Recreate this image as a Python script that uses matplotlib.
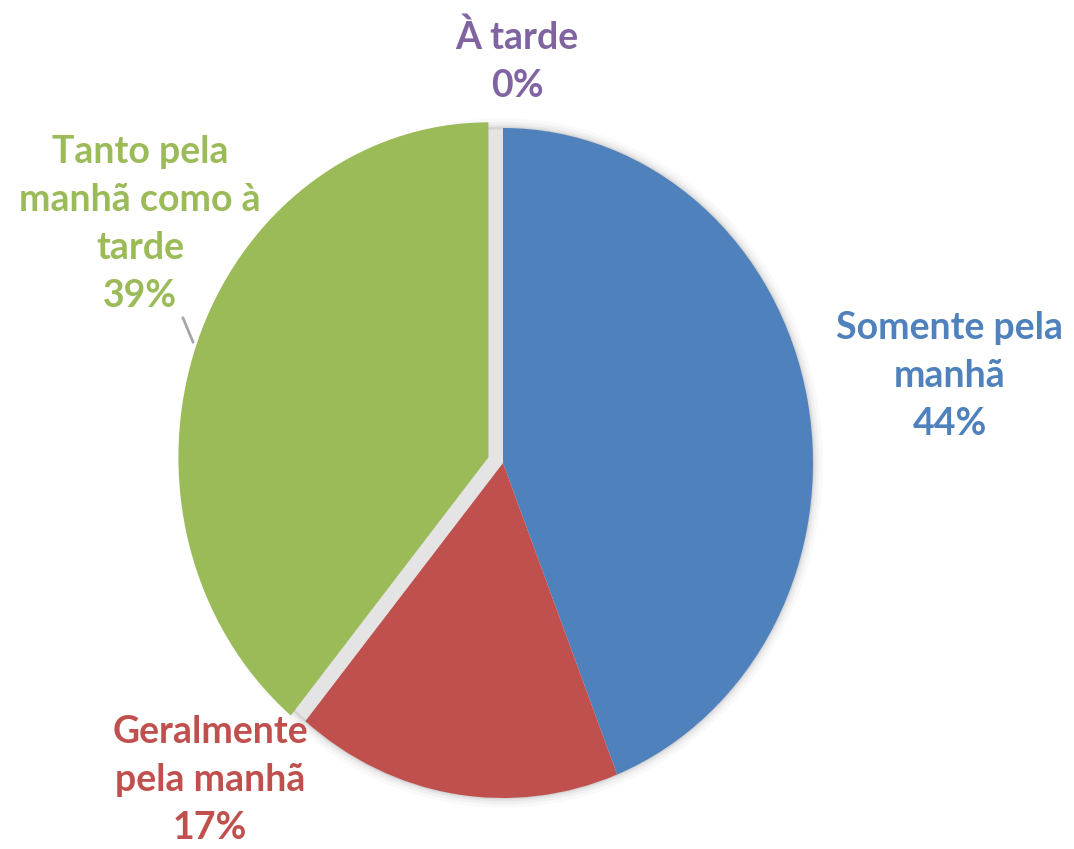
import numpy as np
import matplotlib
matplotlib.use('Agg')
import matplotlib.pyplot as plt

# ────────────────────────────────
# Данные

categories = ['Somente pela\nmanhã', 'Geralmente\npela manhã',
              'Tanto pela\nmanhã como à\ntarde', 'À tarde']
values = [44, 17, 39, 0]
colors = ['#4F81BD', '#C0504D', '#9BBB59', '#8064A2']
explode = [0, 0, 0.05, 0]

# ────────────────────────────────
# Геометрия картинки (пиксели)

W, H = 1074, 849
cx, cy = 503, 463      # центр круга
rx, ry = 310, 335      # картинка слегка растянута по вертикали

plt.rcParams['font.family'] = ['Lato', 'DejaVu Sans']

fig = plt.figure(figsize=(W / 100, H / 100), dpi=100, facecolor='white')
ax = fig.add_axes([0, 0, 1, 1])

# мягкая тень под кругом
for lw, a in [(14, 0.05), (9, 0.08), (5, 0.12), (2, 0.2)]:
    ax.pie([1], colors=['#e4e4e4'], startangle=90,
           wedgeprops=dict(edgecolor=(0.6, 0.6, 0.6, a), linewidth=lw))

wedges, _ = ax.pie(values, colors=colors, startangle=90, counterclock=False,
                   explode=explode, wedgeprops=dict(linewidth=0))

ax.set_aspect('auto')
ax.set_xlim(-cx / rx, (W - cx) / rx)
ax.set_ylim(-(H - cy) / ry, cy / ry)
ax.axis('off')

# ────────────────────────────────
# Подписи (позиции в долях картинки)

label_pos = [(950, 376), (210, 780), (140, 224), (517, 61)]
for i in range(len(values)):
    px, py = label_pos[i]
    ax.text(px / W, 1 - py / H, '%s\n%d%%' % (categories[i], values[i]),
            transform=ax.transAxes, ha='center', va='center',
            color=colors[i], fontsize=27, fontweight='bold', linespacing=1.5)

# выноска у зелёной подписи
ax.plot([183 / W, 193 / W], [1 - 318 / H, 1 - 342 / H], transform=ax.transAxes,
        color='#a6a6a6', linewidth=2)

fig.savefig('out.png', dpi=100, facecolor='white')
